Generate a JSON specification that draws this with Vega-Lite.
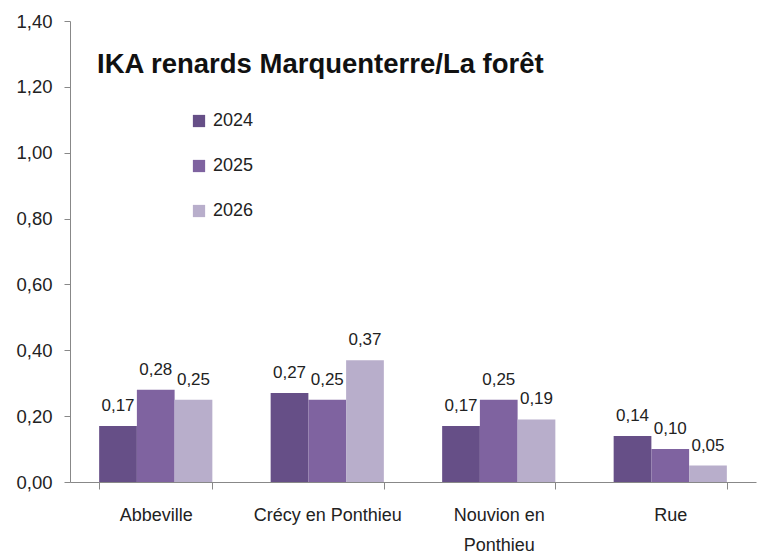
{
  "$schema": "https://vega.github.io/schema/vega-lite/v6.json",
  "width": 686,
  "height": 461,
  "autosize": {"type": "none"},
  "padding": {"left": 70, "top": 21, "right": 1, "bottom": 71},
  "background": "white",
  "title": {
    "text": "IKA renards Marquenterre/La forêt",
    "anchor": "start",
    "font": "Liberation Sans",
    "fontSize": 27.5,
    "fontWeight": "bold",
    "color": "#111111",
    "dx": 81,
    "dy": 66,
    "offset": 0
  },
  "config": {
    "locale": {"number": {"decimal": ",", "thousands": " ", "grouping": [3], "currency": ["", " €"]}},
    "view": {"stroke": null},
    "font": "Liberation Sans"
  },
  "data": {
    "values": [
      {"site": "Abbeville", "year": "2024", "value": 0.17},
      {"site": "Abbeville", "year": "2025", "value": 0.28},
      {"site": "Abbeville", "year": "2026", "value": 0.25},
      {"site": "Crécy en Ponthieu", "year": "2024", "value": 0.27},
      {"site": "Crécy en Ponthieu", "year": "2025", "value": 0.25},
      {"site": "Crécy en Ponthieu", "year": "2026", "value": 0.37},
      {"site": "Nouvion en Ponthieu", "year": "2024", "value": 0.17},
      {"site": "Nouvion en Ponthieu", "year": "2025", "value": 0.25},
      {"site": "Nouvion en Ponthieu", "year": "2026", "value": 0.19},
      {"site": "Rue", "year": "2024", "value": 0.14},
      {"site": "Rue", "year": "2025", "value": 0.10},
      {"site": "Rue", "year": "2026", "value": 0.05}
    ]
  },
  "encoding": {
    "x": {
      "field": "site",
      "type": "nominal",
      "sort": null,
      "scale": {"paddingInner": 0.34, "paddingOuter": 0.17},
      "axis": {
        "title": null,
        "labelAngle": 0,
        "labelFontSize": 18,
        "labelColor": "#222222",
        "labelPadding": 17,
        "labelLineHeight": 30,
        "labelExpr": "datum.label == 'Nouvion en Ponthieu' ? ['Nouvion en', 'Ponthieu'] : datum.label",
        "tickBand": "extent",
        "tickSize": 7,
        "tickColor": "#888888",
        "domainColor": "#888888",
        "labelBaseline": "top"
      }
    },
    "xOffset": {"field": "year", "type": "nominal", "scale": {"paddingInner": 0, "paddingOuter": 0}},
    "y": {
      "field": "value",
      "type": "quantitative",
      "scale": {"domain": [0, 1.4], "nice": false},
      "axis": {
        "title": null,
        "values": [0, 0.2, 0.4, 0.6, 0.8, 1.0, 1.2, 1.4],
        "format": ".2f",
        "grid": false,
        "labelFontSize": 18.5,
        "labelColor": "#222222",
        "labelPadding": 12,
        "tickSize": 6,
        "tickColor": "#888888",
        "domainColor": "#888888"
      }
    }
  },
  "layer": [
    {
      "mark": {"type": "bar"},
      "encoding": {
        "color": {
          "field": "year",
          "type": "nominal",
          "scale": {"domain": ["2024", "2025", "2026"], "range": ["#664F87", "#7F63A0", "#B8AECB"]},
          "legend": {
            "title": null,
            "orient": "none",
            "legendX": 120,
            "legendY": 91,
            "symbolType": "square",
            "symbolSize": 150,
            "symbolStrokeWidth": 0,
            "labelFontSize": 18,
            "labelColor": "#222222",
            "rowPadding": 27,
            "labelOffset": 5
          }
        }
      }
    },
    {
      "mark": {"type": "text", "baseline": "bottom", "dy": -11, "fontSize": 17, "color": "#222222"},
      "encoding": {
        "text": {"field": "value", "type": "quantitative", "format": ".2f"}
      }
    }
  ]
}
